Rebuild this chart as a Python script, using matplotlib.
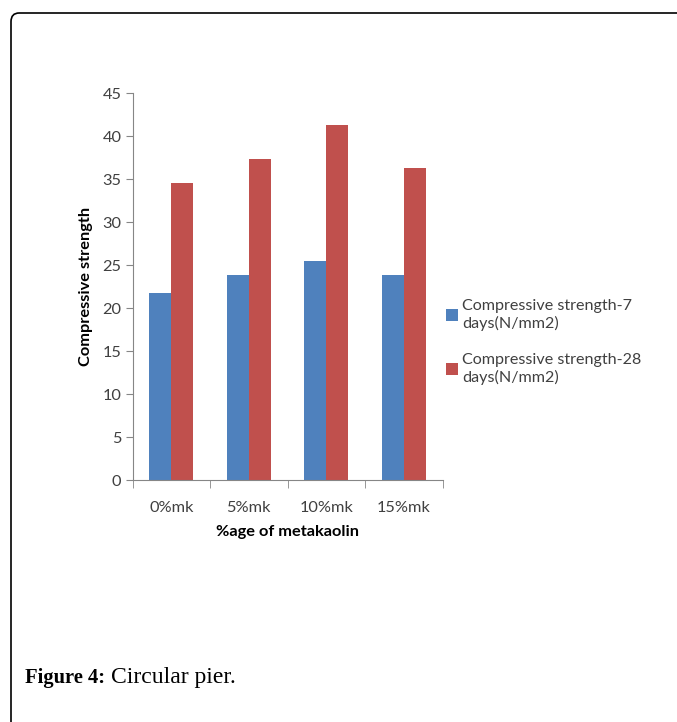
import matplotlib.pyplot as plt
import numpy as np
from matplotlib.patches import FancyBboxPatch

categories = ['0%mk', '5%mk', '10%mk', '15%mk']
days7 = [21.8, 23.9, 25.5, 23.9]
days28 = [34.6, 37.4, 41.3, 36.3]
series_names = ['Compressive strength-7\ndays(N/mm2)', 'Compressive strength-28\ndays(N/mm2)']

W, H = 677, 722
fig = plt.figure(figsize=(W / 100, H / 100), dpi=100)
plt.rcParams['font.family'] = ['Lato', 'DejaVu Sans']

# page frame (rounded, runs off the right and bottom edges)
frame = FancyBboxPatch((11 / W, -0.1), 1.2, (H - 13) / H + 0.1,
                       boxstyle='round,pad=0,rounding_size=0.012',
                       transform=fig.transFigure, fill=False, ec='black', lw=1.2)
fig.patches.append(frame)

ax = fig.add_axes([132.5 / W, 1 - 480 / H, 310 / W, 386.7 / H])
x = np.arange(len(categories))
bw = 0.283
ax.bar(x - bw / 2, days7, bw, color='#4f81bd', label=series_names[0])
ax.bar(x + bw / 2, days28, bw, color='#c0504d', label=series_names[1])

fs = 11.8
ax.set_xlim(-0.5, 3.5)
ax.set_ylim(0, 45)
ax.set_yticks(range(0, 46, 5))
ax.set_xticks(x)
ax.set_xticklabels(categories)
ax.set_xticks(np.arange(-0.5, 4, 1), minor=True)
ax.tick_params(axis='x', which='major', length=0, pad=15, labelsize=fs, colors='#404040')
ax.tick_params(axis='x', which='minor', length=6, color='#868686')
ax.tick_params(axis='y', length=5, color='#868686', labelsize=fs, labelcolor='#404040', pad=3)
for s in ['top', 'right']:
    ax.spines[s].set_visible(False)
for s in ['left', 'bottom']:
    ax.spines[s].set_color('#868686')

ax.set_ylabel('Compressive strength', fontweight='bold', fontsize=fs, labelpad=7)
ax.set_xlabel('%age of metakaolin', fontweight='bold', fontsize=fs, labelpad=7)

ax.legend(loc='center left', bbox_to_anchor=(431 / W, 1 - 342 / H), bbox_transform=fig.transFigure,
          frameon=False, fontsize=11.6, handlelength=0.75, handleheight=0.75, handletextpad=0.3,
          labelspacing=1.4, labelcolor='#404040')

fig.text(25 / W, 1 - 678 / H, 'Figure 4:', fontsize=14.8, fontweight='bold',
         family='Liberation Serif', va='center')
fig.text(111 / W, 1 - 678 / H, 'Circular pier.', fontsize=17,
         family='Liberation Serif', va='center')

fig.savefig('out.png', dpi=100)
